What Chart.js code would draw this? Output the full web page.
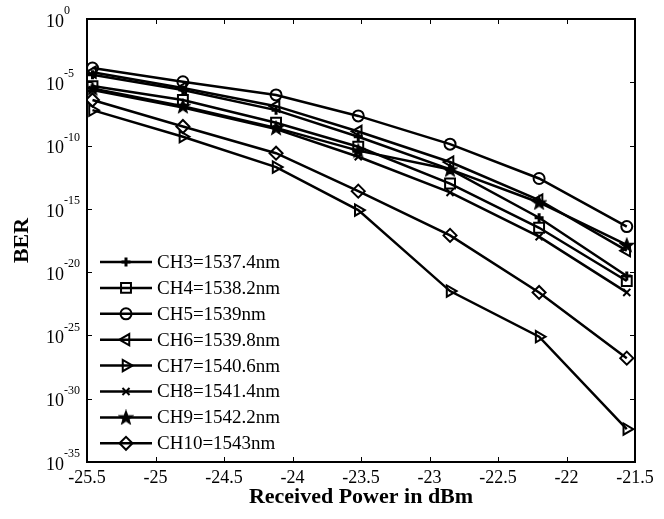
<!DOCTYPE html>
<html>
<head>
<meta charset="utf-8">
<script src="https://cdn.jsdelivr.net/npm/chart.js@4.4.0/dist/chart.umd.min.js"></script>
<style>
  html, body { margin: 0; padding: 0; background: #fff; }
  #wrap { width: 664px; height: 519px; position: relative; }
</style>
</head>
<body>
<div id="wrap"><canvas id="berChart"></canvas></div>
<script>
// received power (dBm) at each measurement
const power = [-25.46, -24.8, -24.12, -23.52, -22.85, -22.2, -21.56];

// BER per channel
const ch3Ber  = [4e-5, 2.5e-6, 6.3e-8, 5e-10, 1.3e-12, 2e-16, 5e-21];
const ch4Ber  = [5e-6, 4e-7, 6.3e-9, 8e-11, 1e-13, 3.2e-17, 2e-21];
const ch5Ber  = [1.35e-4, 1.1e-5, 1e-6, 2.2e-8, 1.3e-10, 2.5e-13, 4e-17];
const ch6Ber  = [6.3e-5, 3.5e-6, 1.3e-7, 1.3e-9, 5e-12, 5e-15, 5e-19];
const ch7Ber  = [6.3e-8, 5e-10, 2e-12, 8e-16, 3.2e-22, 8e-26, 4e-33];
const ch8Ber  = [2.5e-6, 1e-7, 2e-9, 1.3e-11, 2e-14, 6.3e-18, 2.5e-22];
const ch9Ber  = [3.2e-6, 1.3e-7, 2.5e-9, 4e-11, 1.3e-12, 3.2e-15, 1.4e-18];
const ch10Ber = [4e-7, 3.2e-9, 2.5e-11, 2.5e-14, 8e-18, 2.5e-22, 1.6e-27];

const channelNames = ['CH3=1537.4nm', 'CH4=1538.2nm', 'CH5=1539nm', 'CH6=1539.8nm',
                      'CH7=1540.6nm', 'CH8=1541.4nm', 'CH9=1542.2nm', 'CH10=1543nm'];
const yTickExp = [0, -5, -10, -15, -20, -25, -30, -35];

const SERIF = '"Liberation Serif", "Times New Roman", serif';
Chart.defaults.font.family = SERIF;
Chart.defaults.color = '#000';

// filled pentagram like matlab's 'p' marker
function makeStar(size) {
  const c = document.createElement('canvas');
  c.width = c.height = size;
  const g = c.getContext('2d');
  const cx = size / 2, cy = size / 2 + 0.6, R = size / 2 - 0.8, r = R * 0.42;
  g.beginPath();
  for (let k = 0; k < 10; k++) {
    const ang = -Math.PI / 2 + k * Math.PI / 5;
    const rr = k % 2 ? r : R;
    g.lineTo(cx + rr * Math.cos(ang), cy + rr * Math.sin(ang));
  }
  g.closePath();
  g.fillStyle = '#000';
  g.fill();
  g.lineWidth = 1.2;
  g.strokeStyle = '#000';
  g.stroke();
  return c;
}
const starImg = makeStar(16);

const markers = [
  {style: 'cross', radius: 4.5, rotation: 0},
  {style: 'rect', radius: 7, rotation: 0},
  {style: 'circle', radius: 5.5, rotation: 0},
  {style: 'triangle', radius: 6.5, rotation: -90},
  {style: 'triangle', radius: 6.5, rotation: 90},
  {style: 'crossRot', radius: 5, rotation: 0},
  {style: starImg, radius: 7, rotation: 0},
  {style: 'rectRot', radius: 6.5, rotation: 0},
];
const series = [ch3Ber, ch4Ber, ch5Ber, ch6Ber, ch7Ber, ch8Ber, ch9Ber, ch10Ber];

const datasets = series.map((vals, i) => ({
  label: channelNames[i],
  data: power.map((p, k) => ({x: p, y: vals[k]})),
  borderColor: '#000',
  borderWidth: 2.5,
  backgroundColor: 'rgba(0,0,0,0)',
  pointStyle: markers[i].style,
  pointRadius: markers[i].radius,
  pointRotation: markers[i].rotation,
  pointBorderColor: '#000',
  pointBackgroundColor: 'rgba(0,0,0,0)',
  pointBorderWidth: i === 0 ? 3 : 2,
  tension: 0,
}));

// box, inward ticks on all four sides, 10^n labels
const axesBox = {
  id: 'axesBox',
  afterDatasetsDraw(chart) {
    const {ctx, chartArea: a, scales: {x, y}} = chart;
    ctx.save();
    ctx.strokeStyle = '#000';
    ctx.lineWidth = 1;
    ctx.beginPath();
    x.ticks.forEach(t => {
      const px = Math.round(x.getPixelForValue(t.value)) + 0.5;
      ctx.moveTo(px, a.bottom); ctx.lineTo(px, a.bottom - 5);
      ctx.moveTo(px, a.top); ctx.lineTo(px, a.top + 5);
    });
    y.ticks.forEach(t => {
      const py = Math.round(y.getPixelForValue(t.value)) + 0.5;
      ctx.moveTo(a.left, py); ctx.lineTo(a.left + 5, py);
      ctx.moveTo(a.right, py); ctx.lineTo(a.right - 5, py);
    });
    ctx.stroke();
    ctx.lineWidth = 2;
    ctx.strokeRect(a.left, a.top, a.right - a.left, a.bottom - a.top);

    ctx.fillStyle = '#000';
    ctx.textBaseline = 'middle';
    y.ticks.forEach((t, i) => {
      const py = y.getPixelForValue(t.value);
      ctx.font = '18px ' + SERIF;
      ctx.textAlign = 'right';
      ctx.fillText('10', a.left - 23, py + 3);
      ctx.font = '12px ' + SERIF;
      ctx.textAlign = 'left';
      ctx.fillText(String(yTickExp[i]), a.left - 23, py - 8);
    });
    ctx.restore();
  }
};

// legend inside the axes, lower left (line + marker + text)
const insideLegend = {
  id: 'insideLegend',
  afterDraw(chart) {
    const {ctx, chartArea: a} = chart;
    const x0 = a.left + 13, x1 = a.left + 65, rowH = 25.9;
    let yy = a.top + 243;
    ctx.save();
    chart.data.datasets.forEach((ds, i) => {
      ctx.strokeStyle = '#000';
      ctx.lineWidth = 2.5;
      ctx.beginPath();
      ctx.moveTo(x0, yy); ctx.lineTo(x1, yy);
      ctx.stroke();
      ctx.lineWidth = ds.pointBorderWidth;
      ctx.fillStyle = 'rgba(0,0,0,0)';
      Chart.helpers.drawPoint(ctx, {
        pointStyle: ds.pointStyle, radius: ds.pointRadius,
        rotation: ds.pointRotation, borderWidth: ds.pointBorderWidth
      }, (x0 + x1) / 2, yy);
      ctx.fillStyle = '#000';
      ctx.font = '19px ' + SERIF;
      ctx.textAlign = 'left';
      ctx.textBaseline = 'middle';
      ctx.fillText(ds.label, x1 + 5, yy + 1);
      yy += rowH;
    });
    ctx.restore();
  }
};

new Chart(document.getElementById('berChart'), {
  type: 'line',
  data: {datasets},
  options: {
    responsive: true,
    maintainAspectRatio: false,
    animation: false,
    devicePixelRatio: 1,
    layout: {padding: {left: 0, right: 29, top: 19, bottom: 0}},
    plugins: {legend: {display: false}, tooltip: {enabled: false}},
    scales: {
      x: {
        type: 'linear',
        min: -25.5,
        max: -21.5,
        ticks: {
          stepSize: 0.5, padding: 5, maxRotation: 0, color: '#000',
          font: {family: SERIF, size: 18},
          callback: v => String(Math.round(v * 10) / 10)
        },
        grid: {display: false, drawTicks: false},
        border: {display: false},
        title: {
          display: true,
          text: 'Received Power in dBm',
          font: {family: SERIF, size: 22, weight: 'bold'},
          color: '#000',
          padding: {top: 0, bottom: 8}
        },
        afterFit(s) { s.height = 57; }
      },
      y: {
        type: 'logarithmic',
        min: 1e-35,
        max: 1,
        afterBuildTicks(s) { s.ticks = yTickExp.map(e => ({value: Math.pow(10, e)})); },
        ticks: {display: false},
        grid: {display: false, drawTicks: false},
        border: {display: false},
        title: {
          display: true,
          text: 'BER',
          font: {family: SERIF, size: 22, weight: 'bold'},
          color: '#000',
          padding: {top: 9, bottom: 0}
        },
        afterFit(s) { s.width = 87; }
      }
    }
  },
  plugins: [axesBox, insideLegend]
});
</script>
</body>
</html>
